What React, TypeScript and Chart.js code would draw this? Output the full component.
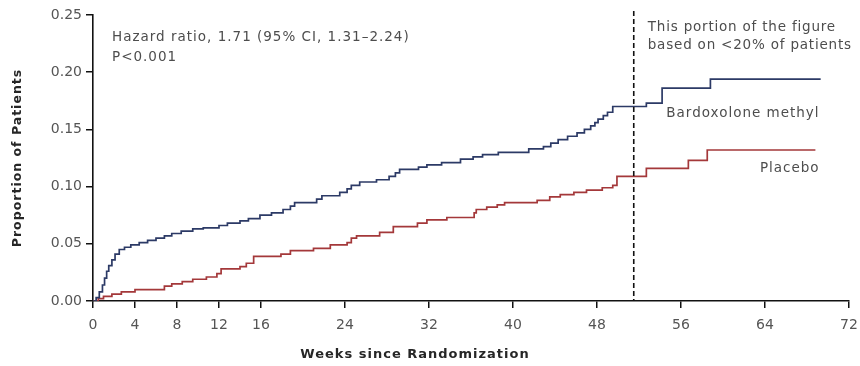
import React, { useEffect, useRef } from "react";
import { Chart, registerables } from "chart.js";

Chart.register(...registerables);

const xTickValues = [0, 4, 8, 12, 16, 24, 32, 40, 48, 56, 64, 72];
const yTickStep = 0.05;

const bardoxWeeks = [0, 0.3, 0.6, 0.9, 1.1, 1.3, 1.5, 1.8, 2.1, 2.5, 3.0, 3.6, 4.4, 5.2, 6.0, 6.8, 7.5, 8.4, 9.5, 10.5, 12.0, 12.8, 14.0, 14.8, 15.9, 17.0, 18.1, 18.8, 19.2, 21.3, 21.8, 23.5, 24.2, 24.6, 25.4, 27.0, 28.2, 28.8, 29.2, 31.0, 31.8, 33.2, 35.0, 36.2, 37.1, 38.6, 41.5, 42.9, 43.6, 44.3, 45.2, 46.1, 46.8, 47.4, 47.8, 48.1, 48.6, 49.0, 49.5, 52.7, 54.2, 58.8, 69.3];
const bardoxValues = [0, 0.003, 0.008, 0.014, 0.02, 0.026, 0.031, 0.036, 0.041, 0.045, 0.047, 0.049, 0.051, 0.053, 0.055, 0.057, 0.059, 0.061, 0.063, 0.064, 0.066, 0.068, 0.07, 0.072, 0.075, 0.077, 0.08, 0.083, 0.086, 0.089, 0.092, 0.095, 0.098, 0.101, 0.104, 0.106, 0.109, 0.112, 0.115, 0.117, 0.119, 0.121, 0.124, 0.126, 0.128, 0.13, 0.133, 0.135, 0.138, 0.141, 0.144, 0.147, 0.15, 0.153, 0.156, 0.159, 0.162, 0.165, 0.17, 0.173, 0.186, 0.194, 0.194];

const placeboWeeks = [0, 0.5, 1.0, 1.8, 2.7, 4.0, 6.8, 7.5, 8.5, 9.5, 10.8, 11.8, 12.2, 14.0, 14.6, 15.3, 17.9, 18.8, 21.0, 22.6, 24.2, 24.6, 25.1, 27.3, 28.6, 30.9, 31.8, 33.7, 36.3, 36.5, 37.5, 38.5, 39.2, 42.3, 43.5, 44.5, 45.8, 47.0, 48.5, 49.5, 49.9, 52.7, 56.7, 58.5, 68.8];
const placeboValues = [0, 0.002, 0.004, 0.006, 0.008, 0.01, 0.013, 0.015, 0.017, 0.019, 0.021, 0.024, 0.028, 0.03, 0.033, 0.039, 0.041, 0.044, 0.046, 0.049, 0.051, 0.055, 0.057, 0.06, 0.065, 0.068, 0.071, 0.073, 0.077, 0.08, 0.082, 0.084, 0.086, 0.088, 0.091, 0.093, 0.095, 0.097, 0.099, 0.101, 0.109, 0.116, 0.123, 0.132, 0.132];

const cutoffWeek = 51.5;

const FONT = "'DejaVu Sans', sans-serif";
const TEXT = "#4d4d4d";

const annotationPlugin = {
  id: "annotations",
  afterDatasetsDraw(chart: any) {
    const { ctx, chartArea, scales } = chart;
    const x = scales.x;
    const y = scales.y;
    ctx.save();
    // dashed cutoff line
    const cx = x.getPixelForValue(cutoffWeek);
    ctx.strokeStyle = "#111";
    ctx.lineWidth = 1.6;
    ctx.setLineDash([5, 3]);
    ctx.beginPath();
    ctx.moveTo(cx, chartArea.top - 4);
    ctx.lineTo(cx, chartArea.bottom);
    ctx.stroke();
    ctx.setLineDash([]);

    ctx.fillStyle = TEXT;
    ctx.font = `13.5px ${FONT}`;
    (ctx as any).letterSpacing = "1px";
    ctx.textBaseline = "middle";
    ctx.textAlign = "left";
    ctx.fillText("Hazard ratio, 1.71 (95% CI, 1.31\u20132.24)", chartArea.left + 19, chartArea.top + 22);
    ctx.fillText("P<0.001", chartArea.left + 19, chartArea.top + 42);

    (ctx as any).letterSpacing = "0.8px";
    ctx.fillText("This portion of the figure", cx + 14, chartArea.top + 12);
    ctx.fillText("based on <20% of patients", cx + 14, chartArea.top + 30);

    (ctx as any).letterSpacing = "1px";
    ctx.textAlign = "right";
    ctx.fillText("Bardoxolone methyl", x.getPixelForValue(69.2), y.getPixelForValue(0.164));
    ctx.fillText("Placebo", x.getPixelForValue(69.2), y.getPixelForValue(0.116));

    // axis titles
    ctx.fillStyle = "#262626";
    ctx.font = `bold 13px ${FONT}`;
    ctx.textAlign = "center";
    ctx.fillText("Weeks since Randomization", 415, chartArea.bottom + 54);

    ctx.translate(18, (chartArea.top + chartArea.bottom) / 2);
    ctx.rotate(-Math.PI / 2);
    ctx.font = `bold 12.5px ${FONT}`;
    ctx.fillText("Proportion of Patients", 0, 0);
    ctx.restore();
  },
};

export default function App() {
  const canvasRef = useRef<HTMLCanvasElement | null>(null);

  useEffect(() => {
    if (!canvasRef.current) return;
    const chart = new Chart(canvasRef.current, {
      type: "line",
      data: {
        datasets: [
          {
            label: "Bardoxolone methyl",
            data: bardoxWeeks.map((w, i) => ({ x: w, y: bardoxValues[i] })),
            borderColor: "#2c3a66",
            borderWidth: 1.7,
            pointRadius: 0,
            stepped: true,
            fill: false,
          },
          {
            label: "Placebo",
            data: placeboWeeks.map((w, i) => ({ x: w, y: placeboValues[i] })),
            borderColor: "#a4383a",
            borderWidth: 1.7,
            pointRadius: 0,
            stepped: true,
            fill: false,
          },
        ],
      },
      options: {
        animation: false,
        responsive: false,
        maintainAspectRatio: false,
        layout: { padding: { top: 15, right: 11, left: 0, bottom: 0 } },
        plugins: {
          legend: { display: false },
          tooltip: { enabled: false },
        },
        scales: {
          x: {
            type: "linear",
            min: 0,
            max: 72,
            afterBuildTicks: (scale: any) => {
              scale.ticks = xTickValues.map((v) => ({ value: v }));
            },
            afterFit: (scale: any) => {
              scale.height = 65;
              scale.paddingLeft = 0;
              scale.paddingRight = 0;
            },
            grid: {
              display: true,
              drawOnChartArea: false,
              drawTicks: true,
              tickLength: 7,
              color: "#111",
              lineWidth: 1.5,
            },
            border: { display: true, color: "#111", width: 1.6 },
            ticks: {
              color: "#555",
              font: { family: FONT, size: 14 },
              padding: 9,
              maxRotation: 0,
              autoSkip: false,
              callback: (v: any) => String(v),
            },
            title: { display: false },
          },
          y: {
            min: 0,
            max: 0.25,
            afterFit: (scale: any) => {
              scale.width = 93;
              scale.paddingTop = 0;
              scale.paddingBottom = 0;
            },
            grid: {
              display: true,
              drawOnChartArea: false,
              drawTicks: true,
              tickLength: 7,
              color: "#111",
              lineWidth: 1.5,
            },
            border: { display: true, color: "#111", width: 1.6 },
            ticks: {
              stepSize: yTickStep,
              color: "#555",
              font: { family: FONT, size: 14 },
              padding: 4,
              callback: (v: any) => Number(v).toFixed(2),
            },
            title: { display: false },
          },
        },
      },
      plugins: [annotationPlugin],
    });
    return () => chart.destroy();
  }, []);

  return (
    <div style={{ position: "fixed", left: 0, top: 0, width: 860, height: 366, background: "#fff" }}>
      <canvas ref={canvasRef} width={860} height={366} style={{ width: 860, height: 366 }} />
    </div>
  );
}
